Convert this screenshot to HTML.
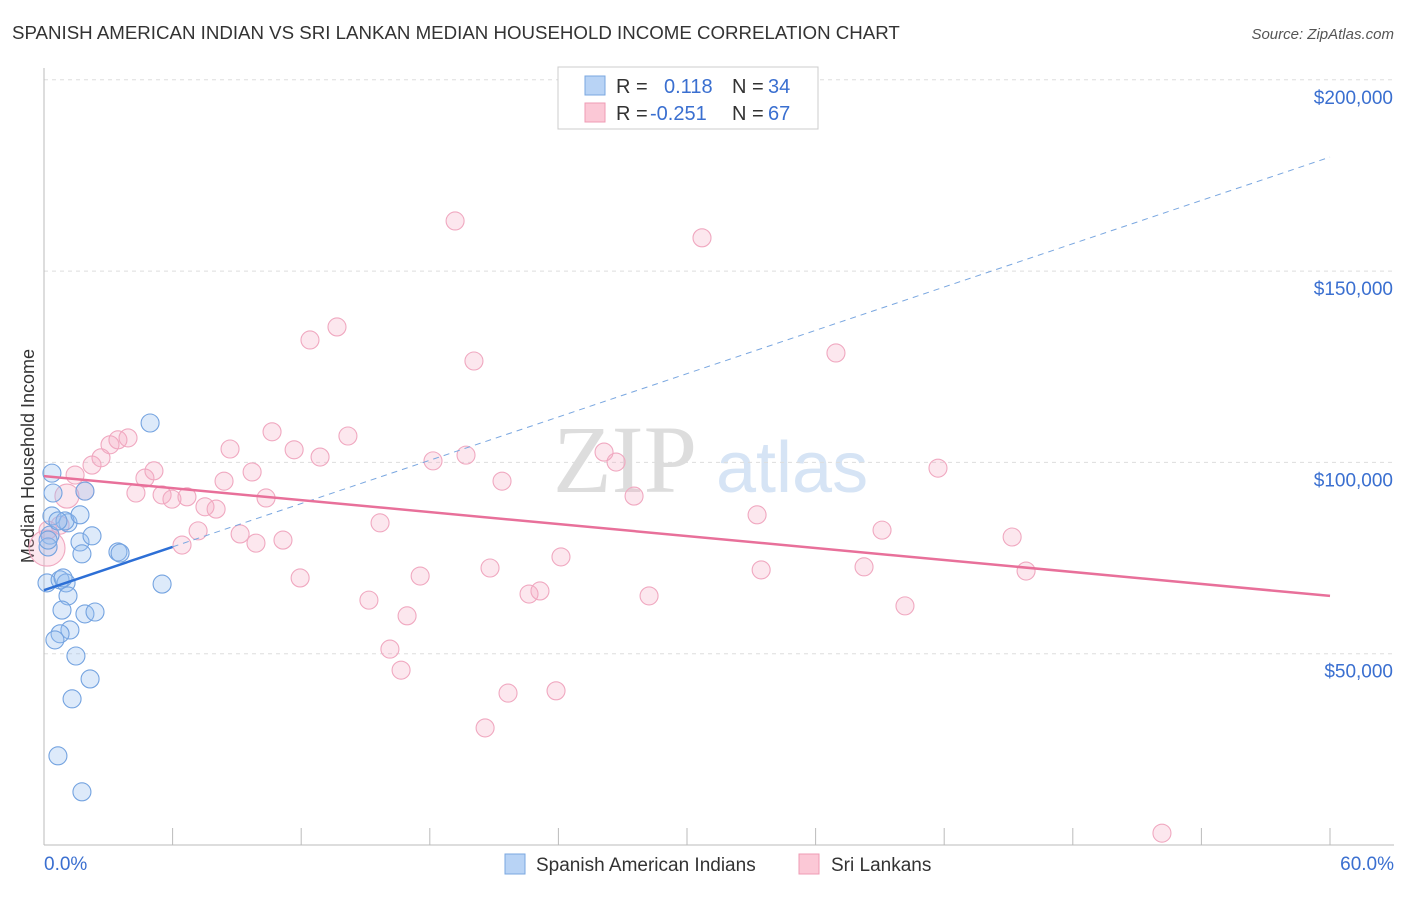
<!DOCTYPE html>
<html><head><meta charset="utf-8"><style>
body{margin:0;background:#fff;font-family:"Liberation Sans",sans-serif;}
svg text{font-family:"Liberation Sans",sans-serif;}
</style></head><body>
<svg id="chart" width="1406" height="892">
<text x="12" y="39" font-size="18.7" fill="#333">SPANISH AMERICAN INDIAN VS SRI LANKAN MEDIAN HOUSEHOLD INCOME CORRELATION CHART</text>
<text x="1394" y="39" font-size="15" fill="#555" font-style="italic" text-anchor="end">Source: ZipAtlas.com</text>
<text x="34" y="456" font-size="18" fill="#333" transform="rotate(-90 34 456)" text-anchor="middle">Median Household Income</text>
<text x="553" y="492" font-size="96" fill="#ddd" style="font-family:'Liberation Serif',serif">ZIP</text>
<text x="716" y="492" font-size="72" fill="#d6e4f5">atlas</text>
<g id="grid"></g><g id="axes"></g><g id="pts"></g><g id="trends"></g>
<g>
<rect x="558" y="67" width="260" height="62" fill="#fff" stroke="#ccc"/>
<rect x="585" y="76" width="20" height="19" fill="#b8d3f5" stroke="#7aa7e0"/>
<rect x="585" y="103" width="20" height="19" fill="#fbc8d6" stroke="#ef9bb4"/>
<text x="616" y="93" font-size="20" fill="#333">R = </text><text x="664" y="93" font-size="20" fill="#3a6fd0">0.118</text>
<text x="732" y="93" font-size="20" fill="#333">N = </text><text x="768" y="93" font-size="20" fill="#3a6fd0">34</text>
<text x="616" y="120" font-size="20" fill="#333">R = </text><text x="650" y="120" font-size="20" fill="#3a6fd0">-0.251</text>
<text x="732" y="120" font-size="20" fill="#333">N = </text><text x="768" y="120" font-size="20" fill="#3a6fd0">67</text>
</g>
<g>
<rect x="505" y="854" width="20" height="20" fill="#b8d3f5" stroke="#7aa7e0"/>
<text x="536" y="871" font-size="19" fill="#333">Spanish American Indians</text>
<rect x="799" y="854" width="20" height="20" fill="#fbc8d6" stroke="#ef9bb4"/>
<text x="831" y="871" font-size="19" fill="#333">Sri Lankans</text>
</g>
</svg>
<script>
const blueX=[0.37,0.42,0.37,0.28,0.19,0.14,0.75,1.12,0.98,0.65,1.68,1.91,1.68,2.24,1.77,3.45,3.55,4.95,5.51,1.03,1.12,0.84,1.91,2.38,1.21,0.75,0.51,1.49,2.15,1.31,0.65,1.77,0.19,0.89];
const blueY=[97.2,92.0,86.0,81.0,77.9,68.5,69.3,84.2,84.7,84.7,86.3,92.5,79.2,80.8,76.1,76.6,76.3,110.3,68.2,68.5,65.1,61.4,60.4,60.9,56.2,55.2,53.6,49.4,43.4,38.2,23.3,13.9,79.7,69.8];
const pinkX=[0.14,0.19,0.75,1.07,1.45,1.91,2.24,2.66,3.08,3.45,3.92,4.29,4.71,5.13,5.51,5.97,6.44,6.67,7.19,7.51,8.03,8.40,8.68,9.15,9.71,9.89,10.36,10.64,11.15,11.67,11.95,12.41,12.88,13.67,14.18,15.16,15.68,16.14,16.66,16.94,17.55,18.15,19.18,19.69,20.06,20.58,20.81,21.37,21.65,22.63,23.14,23.89,24.12,26.13,26.69,27.53,28.23,30.70,33.27,33.46,36.95,38.26,39.10,40.17,41.71,45.17,45.82,52.16];
const pinkY=[77.6,82.3,83.6,91.2,96.7,92.5,99.3,101.2,104.6,105.9,106.4,92.0,95.9,97.8,91.5,90.4,78.4,91.0,82.1,88.4,87.8,95.1,103.5,81.3,97.5,78.9,90.7,108.0,79.7,103.3,69.8,132.0,101.4,135.4,106.9,64.0,84.2,51.2,45.7,59.9,70.3,100.4,163.1,101.9,126.5,30.6,72.4,95.1,39.7,65.6,66.4,40.3,75.3,102.7,100.1,91.2,65.1,158.7,86.3,71.9,128.6,72.7,82.3,62.5,98.5,80.5,71.6,3.1];
const yTicks=[50,100,150,200];
const yTickLabels=["$50,000","$100,000","$150,000","$200,000"];
const blueTrend=[66.6,179.8];
const pinkTrend=[96.4,65.1];
const NS="http://www.w3.org/2000/svg";
const X=v=>44+v/60*1286, Y=v=>845-v/50*191.3;
function mk(p,t,a){const e=document.createElementNS(NS,t);for(const k in a)e.setAttribute(k,a[k]);p.appendChild(e);return e;}
const grid=document.getElementById('grid'),axes=document.getElementById('axes'),pts=document.getElementById('pts'),tr=document.getElementById('trends');
yTicks.forEach((v,i)=>{
 const l=mk(grid,'line',{x1:44,x2:1394,y1:Y(v),y2:Y(v),stroke:'#ddd','stroke-dasharray':'4,4'});
 
 
 const t=mk(grid,'text',{x:1393,y:Y(v)+24,'font-size':19,fill:'#3a6fd0','text-anchor':'end'});t.textContent=yTickLabels[i];
 
 
});
const ax=mk(axes,'line',{x1:44,x2:1394,y1:845,y2:845,stroke:'#bbb'});


const ay=mk(axes,'line',{x1:44,x2:44,y1:68,y2:845,stroke:'#bbb'});


for(let i=0;i<=10;i++){const t=mk(axes,'line',{x1:X(i*6),x2:X(i*6),y1:828,y2:845,stroke:'#bbb'});
 
 }
const l0=mk(axes,'text',{x:44,y:870,'font-size':19,fill:'#3a6fd0'});l0.textContent='0.0%';


const l1=mk(axes,'text',{x:1394,y:870,'font-size':19,fill:'#3a6fd0','text-anchor':'end'});l1.textContent='60.0%';


pinkX.forEach((x,i)=>{const c=mk(pts,'circle',{cx:X(x),cy:Y(pinkY[i]),r:i==0?18:(i==3?12:9),fill:'rgba(246,170,195,0.28)',stroke:'#f0a8c0','stroke-width':1.1});
 
 });
blueX.forEach((x,i)=>{const c=mk(pts,'circle',{cx:X(x),cy:Y(blueY[i]),r:9,fill:'rgba(150,190,240,0.32)',stroke:'#74a3e0','stroke-width':1.1});
 
 });
const bs=(blueTrend[1]-blueTrend[0])/60, b0=blueTrend[0];
const bd=mk(tr,'line',{x1:X(6),y1:Y(b0+bs*6),x2:X(60),y2:Y(blueTrend[1]),stroke:'#7aa7e0','stroke-dasharray':'6,5','stroke-width':1});


const bl=mk(tr,'line',{x1:X(0),y1:Y(b0),x2:X(6),y2:Y(b0+bs*6),stroke:'#2d6fd6','stroke-width':2.5});


const pl=mk(tr,'line',{x1:X(0),y1:Y(pinkTrend[0]),x2:X(60),y2:Y(pinkTrend[1]),stroke:'#e8709a','stroke-width':2.5});


</script>
</body></html>
